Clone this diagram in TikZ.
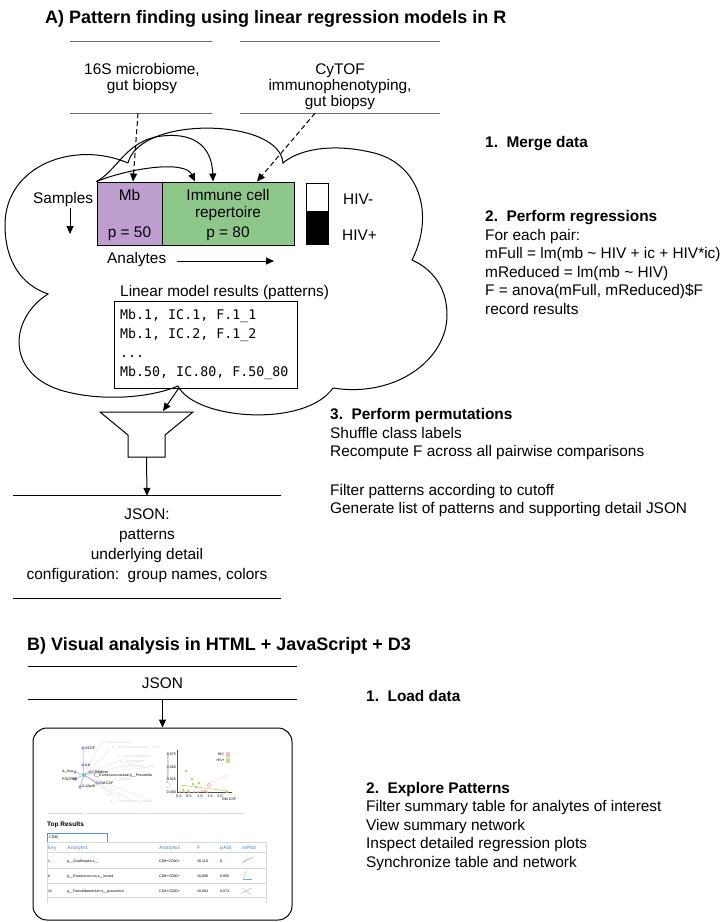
\documentclass[tikz,border=0pt]{standalone}
\usepackage{fontspec}
\setmainfont{Liberation Sans}
\newfontfamily\codefont{DejaVu Sans Mono}
\usetikzlibrary{arrows.meta}

\definecolor{mbfill}{RGB}{190,158,207}
\definecolor{icfill}{RGB}{141,200,138}
\definecolor{srcgray}{RGB}{110,110,110}
\definecolor{tblblue}{RGB}{120,170,210}
\definecolor{inputblue}{RGB}{90,150,215}
\definecolor{netpurple}{RGB}{160,160,215}
\definecolor{netteal}{RGB}{110,200,180}
\definecolor{faint}{RGB}{215,215,215}
\definecolor{faintline}{RGB}{228,228,228}
\definecolor{dotgreen}{RGB}{170,210,90}
\definecolor{dotpink}{RGB}{240,160,160}

\newcommand\dgbody{\fontsize{15.4}{18.4}\selectfont}
\newcommand\dgtitle{\fontsize{18}{21}\selectfont\bfseries}
\newcommand\dgcode{\fontsize{13.3}{19}\selectfont\codefont}
\newcommand\dgtiny{\fontsize{5}{6}\selectfont}
\newcommand\dgmicro{\fontsize{3.6}{4}\selectfont}

\begin{document}
\begin{tikzpicture}[x=1pt,y=-1pt,
  txt/.style={inner sep=0, anchor=base west, font=\dgbody},
  ctxt/.style={inner sep=0, anchor=base, font=\dgbody},
  head/.style={inner sep=0, anchor=base west, font=\dgbody\bfseries},
  ttl/.style={inner sep=0, anchor=base west, font=\dgtitle},
  code/.style={inner sep=0, anchor=base west, font=\dgcode},
  srcbox/.style={inner sep=0, draw=none},
  srcline/.style={draw=srcgray, line width=1.1pt},
  blkline/.style={draw=black, line width=1pt},
  arr/.style={draw=black, line width=1pt, -{Triangle[length=8pt,width=7pt]}},
  dasharr/.style={arr, dash pattern=on 5pt off 3pt},
  cloudline/.style={draw=black, line width=1pt},
  tabbox/.style={draw=black, line width=1pt, inner sep=0},
  shot/.style={inner sep=0, anchor=base west, font=\dgtiny},
  micro/.style={inner sep=0, font=\dgmicro},
]
\useasboundingbox (0,0) rectangle (722,922);
\fill[white] (0,0) rectangle (722,922);

% ---------------- Part A ----------------
\node[ttl] (titleA) at (45,23) {A) Pattern finding using linear regression models in R};

% data sources
\node[srcbox, minimum width=142, minimum height=71] (src16) at (141,77.5) {};
\draw[srcline] (src16.north west) -- (src16.north east);
\draw[srcline] (src16.south west) -- (src16.south east);
\node[ctxt] (src16a) at (142,74) {16S microbiome,};
\node[ctxt] (src16b) at (142,90.5) {gut biopsy};

\node[srcbox, minimum width=200, minimum height=71] (cytof) at (340,77.5) {};
\draw[srcline] (cytof.north west) -- (cytof.north east);
\draw[srcline] (cytof.south west) -- (cytof.south east);
\node[ctxt] (cytofa) at (340,74) {CyTOF};
\node[ctxt] (cytofb) at (340,90) {immunophenotyping,};
\node[ctxt] (cytofc) at (340,106) {gut biopsy};

% cloud
\draw[cloudline] (128,163)
  .. controls (75,140) and (5,165) .. (5,225)
  .. controls (5,262) and (22,285) .. (48,294)
  .. controls (10,318) and (5,372) .. (60,390)
  .. controls (100,402) and (150,398) .. (178,386)
  .. controls (195,420) and (305,428) .. (333,388)
  .. controls (395,398) and (447,360) .. (447,315)
  .. controls (447,285) and (430,268) .. (412,260)
  .. controls (435,215) and (420,162) .. (370,152)
  .. controls (330,143) and (298,150) .. (283,163)
  .. controls (280,118) and (140,115) .. (128,163);

% merged data table
\node[tabbox, fill=mbfill, minimum width=65, minimum height=63] (mb) at (129.5,213.5) {};
\node[tabbox, fill=icfill, minimum width=132, minimum height=63] (imm) at (228,213.5) {};
\node[ctxt] (mbname) at (129.5,200.5) {Mb};
\node[ctxt] (mbp) at (129.5,237) {p = 50};
\node[ctxt] (imma) at (228,200.5) {Immune cell};
\node[ctxt] (immb) at (228,217) {repertoire};
\node[ctxt] (immp) at (228,237) {p = 80};

% class indicator
\node[tabbox, fill=white, minimum width=22, minimum height=28] (hivneg) at (317,197) {};
\node[tabbox, fill=black, minimum width=22, minimum height=33] (hivpos) at (317,227.5) {};
\node[txt] (hivnegl) at (343,204) {HIV-};
\node[txt] (hivposl) at (342,240) {HIV+};

% axes labels
\node[txt] (samples) at (33,203) {Samples};
\coordinate (samplesend) at (70,234);
\draw[arr] (70,208) -- (samplesend);
\node[txt] (analytes) at (107,263) {Analytes};
\coordinate (analytesend) at (274,261);
\draw[arr] ([xshift=11]analytes.base east) ++(0,-2) -- (analytesend);

% incoming data
\draw[dasharr] ([xshift=-3]src16.south) -- ([xshift=3.5]mb.north);
\draw[dasharr] ([xshift=-25]cytof.south) -- ([xshift=29]imm.north);

% merge arrows
\draw[arr] (mb.north west) .. controls (130,168) and (185,160) .. ([xshift=-33]imm.north);
\draw[arr] (mb.north west) .. controls (118,170) and (126,140) .. (162,136)
  .. controls (198,132) and (212,150) .. ([xshift=-15]imm.north);

% linear model results
\node[txt] (lmtitle) at (120,296) {Linear model results (patterns)};
\node[draw=black, line width=1pt, inner sep=0, minimum width=183, minimum height=87] (res) at (205.5,344.5) {};
\node[code] (r1) at (120,319) {Mb.1, IC.1, F.1\_1};
\node[code] (r2) at (120,338) {Mb.1, IC.2, F.1\_2};
\node[code] (r3) at (120,357) {...};
\node[code] (r4) at (120,376) {Mb.50, IC.80, F.50\_80};

% filter funnel
\draw[blkline, fill=white] (100,412) -- (193,412) -- (165,435) -- (165,457)
  -- (128,457) -- (128,435) -- cycle;
\coordinate (funneltop) at (163,411);
\coordinate (funnelbot) at (146.5,457);
\draw[arr] ([xshift=-27]res.south) -- (funneltop);

% JSON output
\node[srcbox, minimum width=268, minimum height=102] (json) at (147,547) {};
\draw[blkline] (json.north west) -- (json.north east);
\draw[blkline] (json.south west) -- (json.south east);
\draw[arr] (funnelbot) -- (json.north);
\node[ctxt] (j1) at (147,519) {JSON:};
\node[ctxt] (j2) at (147,539) {patterns};
\node[ctxt] (j3) at (147,559) {underlying detail};
\node[ctxt] (j4) at (147,579) {configuration:\ \ group names, colors};

% step descriptions
\node[head] (s1) at (485,147) {1.\ \ Merge data};
\node[head] (s2) at (485,221) {2.\ \ Perform regressions};
\node[txt] (s2a) at (485,240) {For each pair:};
\node[txt] (s2b) at (485,258.5) {mFull = lm(mb \textasciitilde\ HIV + ic + HIV*ic)};
\node[txt] (s2c) at (485,277) {mReduced = lm(mb \textasciitilde\ HIV)};
\node[txt] (s2d) at (485,295.5) {F = anova(mFull, mReduced)\$F};
\node[txt] (s2e) at (485,314) {record results};

\node[head] (s3) at (330,419) {3.\ \ Perform permutations};
\node[txt] (s3a) at (330,438) {Shuffle class labels};
\node[txt] (s3b) at (330,456.5) {Recompute F across all pairwise comparisons};
\node[txt] (s3c) at (330,495) {Filter patterns according to cutoff};
\node[txt] (s3d) at (330,513.5) {Generate list of patterns and supporting detail JSON};

% ---------------- Part B ----------------
\node[ttl] (titleB) at (27,650) {B) Visual analysis in HTML + JavaScript + D3};

\node[srcbox, minimum width=269, minimum height=32] (jsonb) at (162.5,683) {};
\draw[blkline] (jsonb.north west) -- (jsonb.north east);
\draw[blkline] (jsonb.south west) -- (jsonb.south east);
\node[ctxt] (jsonbl) at (162.5,688) {JSON};

\node[draw=black, line width=1pt, rounded corners=14, inner sep=0,
      minimum width=259, minimum height=192] (app) at (162.5,824) {};
\draw[arr] (jsonb.south) -- (app.north);

\node[head] (b1) at (366,701) {1.\ \ Load data};
\node[head] (b2) at (366,793) {2.\ \ Explore Patterns};
\node[txt] (b2a) at (366,811.5) {Filter summary table for analytes of interest};
\node[txt] (b2b) at (366,830) {View summary network};
\node[txt] (b2c) at (366,848.5) {Inspect detailed regression plots};
\node[txt] (b2d) at (366,867) {Synchronize table and network};

% --- application view: network
\begin{scope}
  \foreach \a/\b in {100/744,110/750,125/758,140/762,150/767,112/770,120/798,135/802,150/800,108/792}
    \draw[faintline, line width=0.4pt] (84,775) -- (\a,\b);
  \node[micro, text=faint, anchor=west] (nf1) at (100,743) {g\_\_Ruminococcus\_\_};
  \node[micro, text=faint, anchor=west] (nf2) at (112,748) {g\_\_Ruminococcaceae\_\_Oscil};
  \node[micro, text=faint, anchor=west] (nf3) at (118,757) {f\_\_Lachnospiraceae};
  \node[micro, text=faint, anchor=west] (nf4) at (120,762) {g\_\_Bacteroides};
  \node[micro, text=faint, anchor=west] (nf5) at (122,767) {g\_\_Prevotella\_\_cop};
  \node[micro, text=faint, anchor=west] (nf6) at (114,780) {g\_\_Blautia};
  \node[micro, text=faint, anchor=west] (nf7) at (105,795) {TNF};
  \node[micro, text=faint, anchor=west] (nf8) at (110,802) {g\_\_Coprococcus\_\_Eubact};
  \draw[netpurple, line width=0.5pt] (83,748) -- (83,765) -- (84,775) (75,772) -- (84,775) -- (75,779)
    (84,775) -- (97,783) (84,775) -- (80,787) (84,775) -- (90,772);
  \foreach \x/\y in {83/748, 83/765, 75/772, 90/772, 75/779, 97/783, 80/787}
    \fill[netpurple] (\x,\y) circle (1.8);
  \node[micro, anchor=west] (n1) at (85,748) {VEGF};
  \node[micro, anchor=west] (n2) at (85,765) {IL8};
  \node[micro, anchor=west] (n3) at (62,772) {IL\_hsa};
  \node[micro, anchor=west] (n4) at (92,772) {CD8Micro};
  \node[micro, anchor=west] (n5) at (94,776) {f\_\_Ruminococcaceae.g\_\_Prevotella};
  \node[micro, anchor=west] (n6) at (62,779) {PDGFBB};
  \node[micro, anchor=west] (n7) at (99,783) {GM.CSF};
  \node[micro, anchor=west] (n8) at (82,787) {IL12p40};
  \fill[netteal] (84,775) circle (2);
\end{scope}

% --- application view: scatter plot
\begin{scope}
  \draw[black!70, line width=0.4pt] (177,750) -- (177,792) -- (232,792);
  \foreach \y/\t in {754/0.075,767/0.050,779/0.025,792/0.000}
    \node[micro, anchor=east] at (176,\y) {\t};
  \foreach \x/\t in {179/0.0,189/0.5,200/1.0,210/1.5,220/2.0}
    \node[micro] at (\x,796) {\t};
  \node[micro] (xlab) at (229,799) {GM.CSF};
  \node[micro, text=black!50, rotate=90] (ylab) at (168,771) {f\_\_Ruminococcaceae};
  \draw[dotpink, line width=0.4pt, dash pattern=on 1pt off 1pt] (196,789) -- (228,775);
  \draw[dotgreen, line width=0.5pt] (180,785) -- (228,791);
  \foreach \x/\y in {186/771,192/779,193/784,199/783,196/787,188/791,205/791,227/792,183/790}
    \fill[dotgreen] (\x,\y) circle (1.4);
  \foreach \x/\y in {180/792,184/792,189/792,194/792,198/792,202/791,207/792}
    \draw[dotpink, line width=0.4pt] (\x,\y) circle (1.1);
  \draw[dotpink, line width=0.5pt] (209,785) circle (1.8);
  \node[micro, anchor=east] (lg1) at (225,754) {HIV-};
  \node[micro, anchor=east] (lg2) at (225,760) {HIV+};
  \fill[dotpink!70] (226,752) rectangle (230,756.5);
  \fill[dotgreen!70] (226,758) rectangle (230,762.5);
\end{scope}

% --- application view: tabs and results table
\begin{scope}
  \foreach \a/\b in {48/83,87/143,145/202,203/245}
    \draw[faint, line width=0.8pt] (\a,813) -- (\b,813);
  \node[shot, font=\fontsize{6.5}{7}\selectfont\bfseries] (topres) at (47,826) {Top Results};
  \node[draw=inputblue, line width=0.7pt, inner sep=0, minimum width=60, minimum height=9] (inp) at (77,837.5) {};
  \node[micro, anchor=west] (inpt) at (49,837.5) {CD90};
  \draw[faint, line width=0.5pt] (47,903) -- (47,842) -- (266,842) -- (266,903);
  \foreach \y in {852,868,883,897}
    \draw[faint, line width=0.5pt] (47,\y) -- (266,\y);
  \foreach \x/\t in {48/key,67/Analyte1,159/Analyte2,197/F,220/pAdj,242/mPlot}
    \node[shot, text=tblblue, font=\dgtiny\bfseries] at (\x,849) {\t};
  \foreach \y/\k/\a/\b/\f/\p in {862/1/g\_\_Oscillospira.s\_\_/CD8+CD90+/30.118/0,
      877/6/g\_\_Ruminococcus.s\_\_bromii/CD8+CD90+/18.088/0.005,
      892/31/g\_\_Faecalibacterium.s\_\_prausnitzii/CD4+CD90+/10.004/0.074}
  {
    \node[shot, font=\dgmicro] at (48,\y) {\k};
    \node[shot, font=\dgmicro] at (67,\y) {\a};
    \node[shot, font=\dgmicro] at (159,\y) {\b};
    \node[shot, font=\dgmicro] at (197,\y) {\f};
    \node[shot, font=\dgmicro] at (220,\y) {\p};
  }
  \draw[tblblue, line width=0.4pt] (242,863) -- (253,857);
  \draw[dotpink, line width=0.4pt] (242,863) -- (248,858);
  \draw[dotpink, line width=0.4pt] (243,879) -- (246,871);
  \draw[tblblue, line width=0.4pt] (243,879) -- (252,879);
  \draw[dotpink, line width=0.4pt] (242,888) -- (251,895);
  \draw[tblblue, line width=0.4pt] (242,893) -- (252,888);
\end{scope}

\end{tikzpicture}
\end{document}
